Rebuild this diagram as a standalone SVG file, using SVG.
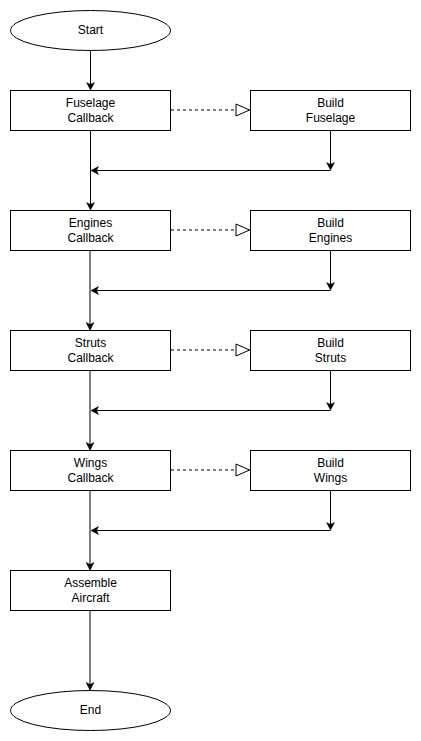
<svg xmlns="http://www.w3.org/2000/svg" width="421" height="741" viewBox="0 0 421 741">
<style>
.box{fill:#fff;stroke:#000;stroke-width:1}
.lbl{font-family:"Liberation Sans",Arial,sans-serif;font-size:12px;fill:#000;text-anchor:middle}
.flow{fill:none;stroke:#000;stroke-width:1}
.dash{fill:none;stroke:#000;stroke-width:1;stroke-dasharray:3 3}
</style>
<defs>
<marker id="arr" markerUnits="userSpaceOnUse" viewBox="-8 -5 9 10" refX="0" refY="0" markerWidth="9" markerHeight="10" orient="auto">
<path d="M0,0 L-7.5,-4 L-5.5,0 L-7.5,4 Z" fill="#000" stroke="#000" stroke-width="0.5"/>
</marker>
<marker id="tri" markerUnits="userSpaceOnUse" viewBox="-15 -7 16 14" refX="0" refY="0" markerWidth="16" markerHeight="14" orient="auto">
<path d="M-0.5,0 L-14,-6 L-14,6 Z" fill="#fff" stroke="#000" stroke-width="1" stroke-dasharray="none"/>
</marker>
</defs>
<rect width="421" height="741" fill="#fff"/>
<g id="connectors">
<path class="flow" d="M90.5,50 L90.5,90" marker-end="url(#arr)"/>
<path class="flow" d="M90.5,130 L90.5,210" marker-end="url(#arr)"/>
<path class="flow" d="M90,250 L90,330" marker-end="url(#arr)"/>
<path class="flow" d="M90,370 L90,450" marker-end="url(#arr)"/>
<path class="flow" d="M90,490 L90,570" marker-end="url(#arr)"/>
<path class="flow" d="M90,610 L90,690" marker-end="url(#arr)"/>
<path class="dash" d="M171,110 L250,110" marker-end="url(#tri)"/>
<path class="dash" d="M171,230 L250,230" marker-end="url(#tri)"/>
<path class="dash" d="M171,350 L250,350" marker-end="url(#tri)"/>
<path class="dash" d="M171,470 L250,470" marker-end="url(#tri)"/>
<path class="flow" d="M330.5,130 L330.5,170" marker-end="url(#arr)"/>
<path class="flow" d="M330.5,170.5 L91,170.5" marker-end="url(#arr)"/>
<path class="flow" d="M330.5,250 L330.5,290" marker-end="url(#arr)"/>
<path class="flow" d="M330.5,290.5 L91,290.5" marker-end="url(#arr)"/>
<path class="flow" d="M330.5,370 L330.5,410" marker-end="url(#arr)"/>
<path class="flow" d="M330.5,410.5 L91,410.5" marker-end="url(#arr)"/>
<path class="flow" d="M330.5,490 L330.5,530" marker-end="url(#arr)"/>
<path class="flow" d="M330.5,530.5 L91,530.5" marker-end="url(#arr)"/>
</g>
<g id="start"><ellipse class="box" cx="90.5" cy="30.5" rx="80" ry="20"/><text class="lbl" x="90.5" y="34">Start</text></g>
<g id="fuselage-callback"><rect class="box" x="10.5" y="90.5" width="160" height="40"/><text class="lbl" x="90.5" y="107">Fuselage</text><text class="lbl" x="90.5" y="121.5">Callback</text></g>
<g id="build-fuselage"><rect class="box" x="250.5" y="90.5" width="160" height="40"/><text class="lbl" x="330.5" y="107">Build</text><text class="lbl" x="330.5" y="121.5">Fuselage</text></g>
<g id="engines-callback"><rect class="box" x="10.5" y="210.5" width="160" height="40"/><text class="lbl" x="90.5" y="227">Engines</text><text class="lbl" x="90.5" y="241.5">Callback</text></g>
<g id="build-engines"><rect class="box" x="250.5" y="210.5" width="160" height="40"/><text class="lbl" x="330.5" y="227">Build</text><text class="lbl" x="330.5" y="241.5">Engines</text></g>
<g id="struts-callback"><rect class="box" x="10.5" y="330.5" width="160" height="40"/><text class="lbl" x="90.5" y="347">Struts</text><text class="lbl" x="90.5" y="361.5">Callback</text></g>
<g id="build-struts"><rect class="box" x="250.5" y="330.5" width="160" height="40"/><text class="lbl" x="330.5" y="347">Build</text><text class="lbl" x="330.5" y="361.5">Struts</text></g>
<g id="wings-callback"><rect class="box" x="10.5" y="450.5" width="160" height="40"/><text class="lbl" x="90.5" y="467">Wings</text><text class="lbl" x="90.5" y="481.5">Callback</text></g>
<g id="build-wings"><rect class="box" x="250.5" y="450.5" width="160" height="40"/><text class="lbl" x="330.5" y="467">Build</text><text class="lbl" x="330.5" y="481.5">Wings</text></g>
<g id="assemble-aircraft"><rect class="box" x="10.5" y="570.5" width="160" height="40"/><text class="lbl" x="90.5" y="587">Assemble</text><text class="lbl" x="90.5" y="601.5">Aircraft</text></g>
<g id="end"><ellipse class="box" cx="90.5" cy="710.5" rx="80" ry="20"/><text class="lbl" x="90.5" y="714">End</text></g>
</svg>
